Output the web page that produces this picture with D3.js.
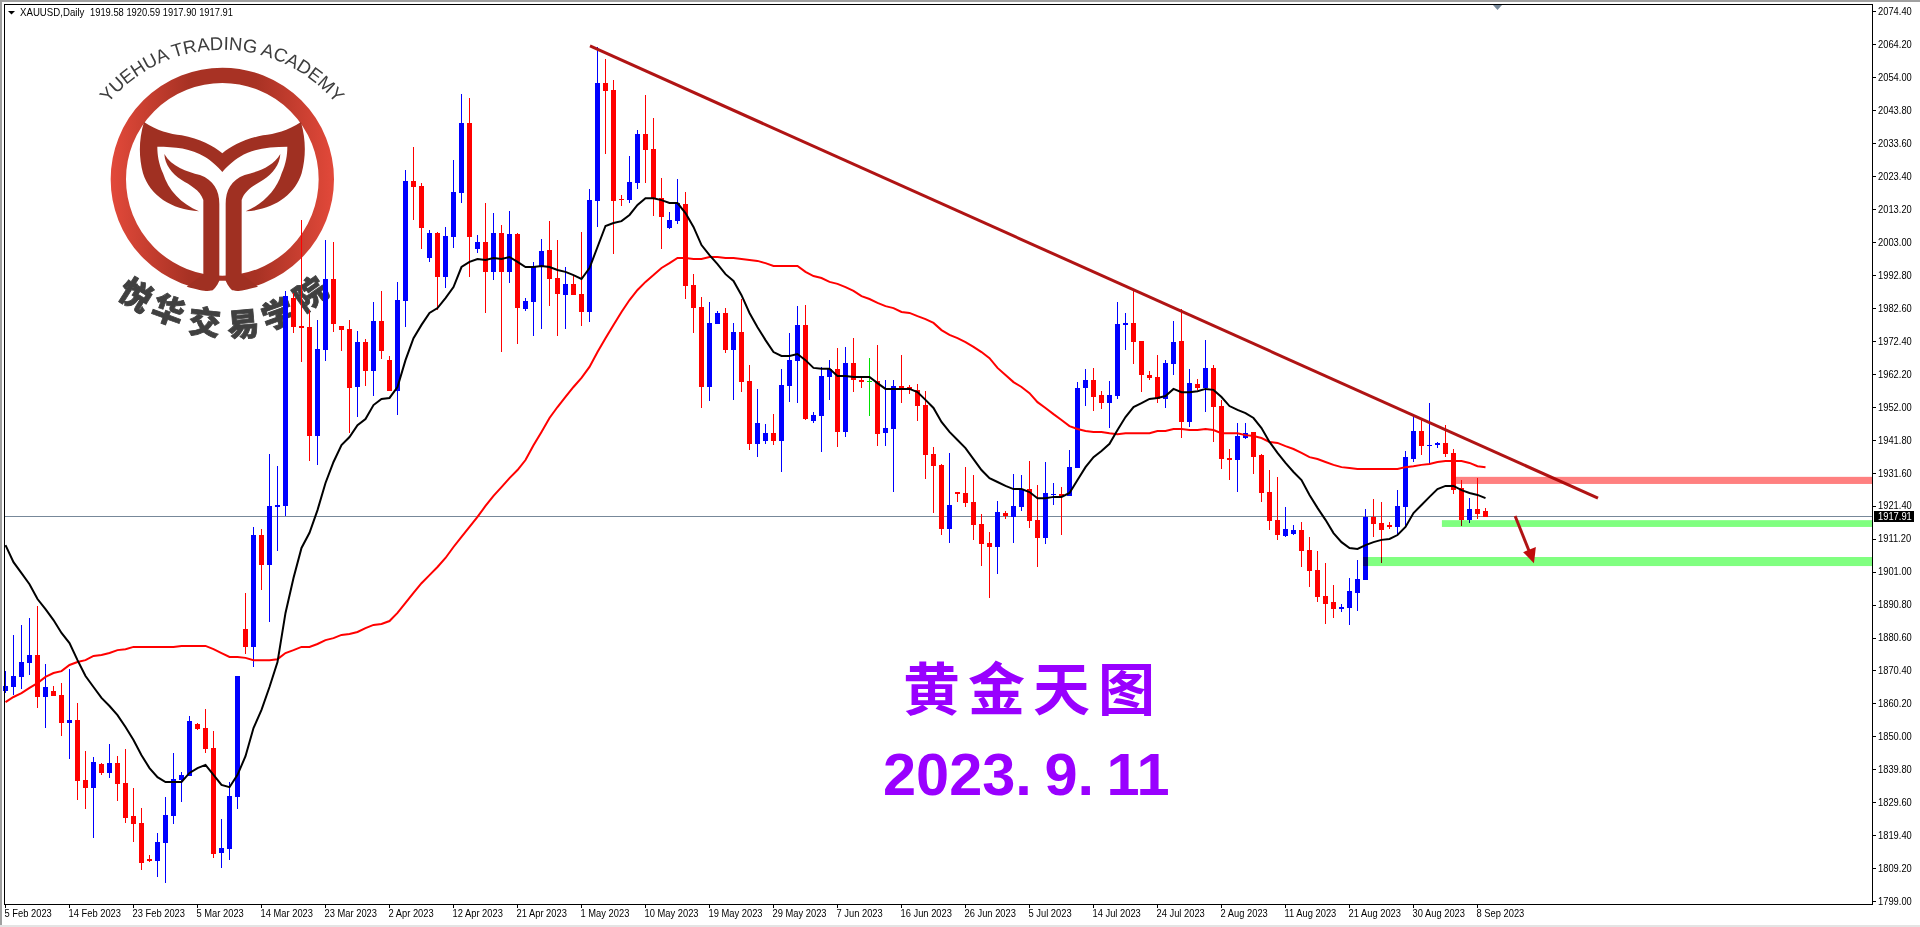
<!DOCTYPE html>
<html><head><meta charset="utf-8">
<script src="https://cdn.jsdelivr.net/npm/d3@7"></script>
<style>
html,body{margin:0;padding:0;background:#fff;overflow:hidden}
svg{display:block}
text{font-family:"Liberation Sans",Arial,sans-serif}
</style></head><body><div id="chart"></div>
<script>
const symbolHeader = "XAUUSD,Daily";
const quoteHeader = "1919.58 1920.59 1917.90 1917.91";
const priceTicks = [2074.40,2064.20,2054.00,2043.80,2033.60,2023.40,2013.20,2003.00,1992.80,1982.60,1972.40,1962.20,1952.00,1941.80,1931.60,1921.40,1911.20,1901.00,1890.80,1880.60,1870.40,1860.20,1850.00,1839.80,1829.60,1819.40,1809.20,1799.00];
const dateLabels = ["5 Feb 2023","14 Feb 2023","23 Feb 2023","5 Mar 2023","14 Mar 2023","23 Mar 2023","2 Apr 2023","12 Apr 2023","21 Apr 2023","1 May 2023","10 May 2023","19 May 2023","29 May 2023","7 Jun 2023","16 Jun 2023","26 Jun 2023","5 Jul 2023","14 Jul 2023","24 Jul 2023","2 Aug 2023","11 Aug 2023","21 Aug 2023","30 Aug 2023","8 Sep 2023"];
const barsPerDateLabel = 8;
const lastPrice = 1917.91;

const opens = [1864.0,1865.3,1868.4,1872.7,1875.2,1862.2,1864.0,1862.8,1854.1,1855.0,
1836.5,1834.0,1841.5,1838.7,1841.8,1835.6,1825.4,1823.2,1812.1,1811.5,
1817.0,1825.4,1836.5,1837.8,1853.8,1852.6,1846.4,1813.9,1815.2,1831.2,
1883.2,1877.7,1912.3,1903.0,1921.0,1921.3,1985.6,1976.9,1976.6,1942.9,
1969.5,1991.5,1976.9,1976.0,1958.1,1972.0,1963.0,1978.5,1966.4,1956.8,
1984.7,2021.8,2020.3,1998.0,2005.7,1992.1,2004.5,2018.1,2039.8,2000.8,
2003.0,1993.7,2005.7,1993.7,2005.4,1982.2,1984.4,1995.2,2000.5,1991.8,
1986.5,1990.0,1986.9,1981.3,2015.6,2052.1,2050.0,2016.2,2015.9,2021.2,
2036.3,2031.7,2016.5,2007.3,2009.4,2014.7,1989.6,1982.8,1958.1,1977.6,
1981.0,1969.5,1975.1,1959.9,1940.5,1941.4,1943.8,1941.4,1958.4,1966.1,
1977.3,1947.6,1949.1,1961.2,1963.7,1944.2,1965.5,1960.2,1959.9,1959.9,
1943.8,1945.1,1958.4,1958.1,1957.2,1952.5,1937.4,1934.0,1914.2,1925.6,
1925.3,1922.5,1915.7,1909.8,1908.6,1919.1,1917.9,1921.0,1926.5,1917.0,
1911.4,1924.7,1925.0,1924.4,1933.0,1957.8,1960.2,1955.6,1953.1,1955.3,
1977.3,1977.9,1972.3,1961.8,1961.2,1954.4,1965.2,1972.3,1947.3,1959.0,
1957.8,1964.0,1952.2,1936.1,1935.5,1942.3,1944.2,1937.0,1925.6,1917.0,
1912.0,1912.6,1913.9,1907.7,1901.5,1893.4,1891.6,1889.4,1889.7,1894.4,
1898.4,1917.9,1916.0,1915.4,1914.8,1921.0,1935.8,1944.5,1939.8,1940.1,
1940.8,1937.7,1926.8,1917.0,1920.3,1919.58];

const closes = [1865.6,1868.7,1873.0,1875.2,1862.2,1865.3,1862.5,1854.1,1855.0,1836.2,
1834.0,1842.1,1838.7,1841.8,1835.3,1824.8,1822.9,1810.8,1811.5,1817.3,
1825.7,1836.8,1838.1,1854.8,1852.3,1846.1,1813.6,1815.5,1831.6,1868.7,
1877.7,1912.3,1903.0,1921.3,1921.6,1986.2,1976.6,1976.3,1942.9,1969.8,
1991.5,1977.6,1975.7,1957.8,1972.0,1963.0,1978.5,1969.2,1956.8,1985.0,
2021.8,2020.0,2007.3,2005.7,1992.1,2004.8,2018.4,2039.8,2004.5,2003.0,
1993.7,2005.7,1993.7,2005.4,1982.5,1984.7,1995.2,2000.2,1991.5,1986.9,
1990.0,1986.5,1981.3,2015.9,2052.1,2049.7,2015.6,2015.9,2021.5,2036.3,
2031.4,2016.5,2010.7,2009.7,2015.0,1989.3,1982.5,1958.1,1977.9,1981.0,
1969.5,1975.1,1959.6,1940.5,1947.0,1943.8,1941.4,1958.7,1966.4,1977.3,
1948.2,1949.4,1961.5,1963.7,1944.2,1965.5,1960.2,1959.6,1959.9,1943.5,
1945.4,1958.4,1957.5,1957.2,1952.2,1937.0,1933.6,1914.2,1921.6,1925.0,
1922.2,1915.4,1909.5,1908.6,1919.4,1918.2,1921.3,1926.5,1916.6,1911.4,
1925.3,1925.0,1924.4,1933.3,1957.8,1960.2,1955.0,1953.1,1955.6,1977.6,
1977.9,1972.0,1961.8,1960.9,1954.4,1965.5,1972.0,1947.3,1959.3,1957.8,
1964.0,1951.9,1935.8,1935.5,1942.9,1943.8,1936.4,1925.3,1916.6,1912.3,
1914.2,1913.9,1907.4,1901.2,1893.1,1891.0,1889.4,1890.0,1895.0,1898.7,
1917.9,1915.7,1913.9,1914.8,1921.3,1936.4,1944.5,1939.8,1940.1,1940.8,
1937.4,1926.2,1917.0,1920.3,1918.8,1917.91];

const highs = [1870.2,1881.4,1884.5,1886.6,1890.3,1872.4,1865.6,1866.5,1870.8,1860.3,
1845.5,1843.6,1841.8,1847.6,1843.9,1846.1,1834.0,1827.8,1813.3,1820.1,
1831.2,1844.9,1839.0,1856.3,1854.1,1858.5,1851.7,1824.5,1835.9,1868.7,
1894.4,1914.8,1914.2,1937.4,1933.6,1987.8,1987.2,2009.7,1981.9,1978.8,
2003.6,2003.0,1976.9,1978.8,1975.4,1972.9,1984.4,1987.8,1967.7,1990.6,
2025.2,2032.3,2021.2,2006.7,2006.0,2007.6,2028.3,2048.7,2047.5,2005.1,
2015.0,2011.9,2008.2,2012.5,2005.7,1985.6,1996.8,2003.9,2009.4,2003.6,
1995.2,1992.4,2006.0,2019.3,2063.3,2059.5,2053.1,2017.5,2029.5,2037.6,
2048.4,2041.3,2022.7,2012.2,2022.4,2018.4,1993.0,1985.9,1984.4,1981.6,
1982.5,1977.9,1985.3,1964.9,1957.5,1946.6,1949.7,1963.7,1974.8,1983.1,
1983.5,1950.3,1964.3,1966.4,1970.1,1970.5,1973.2,1961.2,1967.0,1971.1,
1960.2,1960.2,1968.0,1958.7,1959.0,1956.8,1939.5,1934.3,1937.7,1925.6,
1933.3,1930.9,1918.8,1913.2,1922.8,1919.7,1931.2,1930.9,1935.2,1927.8,
1934.9,1928.4,1927.1,1938.6,1959.6,1963.7,1964.0,1956.8,1959.9,1984.4,
1981.0,1988.1,1972.3,1963.0,1968.0,1966.4,1978.5,1982.2,1963.7,1960.6,
1972.6,1964.9,1954.1,1938.9,1947.0,1947.0,1944.2,1937.4,1932.4,1930.2,
1921.0,1915.4,1916.3,1911.7,1907.4,1903.6,1896.8,1891.0,1899.0,1904.6,
1920.3,1923.4,1922.5,1916.3,1926.2,1938.3,1948.8,1947.9,1953.1,1941.1,
1946.3,1938.9,1929.3,1923.7,1929.9,1920.59];

const lows = [1863.4,1862.8,1864.7,1869.0,1858.8,1852.6,1862.5,1850.1,1843.0,1830.3,
1827.5,1818.6,1838.1,1837.1,1830.0,1823.2,1817.3,1808.7,1811.1,1806.5,
1804.6,1822.9,1829.7,1837.8,1852.0,1844.9,1812.4,1809.3,1811.8,1827.5,
1875.5,1871.5,1895.3,1885.4,1907.3,1918.2,1974.8,1965.8,1935.2,1934.0,
1966.1,1975.1,1969.2,1943.8,1948.8,1958.4,1955.3,1966.7,1956.8,1949.4,
1976.6,2009.7,2000.8,1996.8,1981.9,1988.7,2001.1,2015.0,1992.1,1999.5,
1981.0,1991.2,1968.9,1990.3,1971.4,1981.6,1973.9,1976.0,1983.1,1973.9,
1976.0,1986.5,1976.9,1978.2,2007.6,2030.2,1999.2,2014.1,2015.0,2019.3,
2021.2,2011.0,2000.8,2007.0,2008.5,1985.3,1974.8,1951.6,1953.7,1977.6,
1968.6,1954.1,1956.5,1938.6,1936.4,1940.5,1940.1,1931.8,1953.4,1953.1,
1947.9,1946.9,1938.0,1954.1,1939.5,1942.6,1956.5,1957.8,1949.1,1939.8,
1939.8,1925.6,1953.1,1955.9,1947.6,1929.6,1919.1,1912.3,1909.8,1922.5,
1921.0,1910.8,1902.7,1892.8,1900.2,1917.3,1909.8,1919.7,1914.5,1902.4,
1909.5,1921.6,1912.3,1924.4,1933.0,1952.2,1950.7,1951.3,1945.4,1954.4,
1969.5,1965.2,1956.5,1960.2,1953.1,1951.6,1961.8,1942.3,1945.7,1957.2,
1950.3,1941.1,1932.7,1929.3,1925.6,1942.0,1931.2,1922.5,1913.9,1910.8,
1911.7,1912.3,1902.4,1896.2,1891.6,1884.8,1886.6,1888.5,1884.5,1888.8,
1898.4,1911.7,1903.6,1914.2,1912.3,1914.8,1934.9,1937.0,1934.3,1939.2,
1936.4,1925.0,1915.1,1916.0,1917.3,1917.90];

const maFast = [1909.2,1903.9,1900.5,1897.1,1892.5,1889.4,1886.0,1882.0,1878.9,1873.6,
1868.7,1865.3,1861.9,1859.4,1856.6,1852.9,1848.9,1844.2,1840.2,1837.4,
1835.9,1835.9,1835.9,1838.7,1840.2,1841.2,1838.1,1835.0,1834.3,1838.1,
1843.9,1852.6,1858.2,1865.3,1873.0,1888.2,1899.0,1908.3,1913.0,1920.0,
1928.4,1934.9,1940.1,1942.6,1946.3,1948.2,1952.5,1954.4,1954.7,1958.1,
1966.4,1973.2,1977.3,1981.0,1982.5,1985.6,1989.0,1995.2,1996.8,1997.7,
1997.4,1998.0,1997.7,1998.3,1996.8,1995.2,1995.2,1995.5,1995.2,1994.3,
1993.7,1992.7,1991.5,1994.9,2001.4,2007.9,2008.8,2009.4,2011.3,2014.4,
2016.5,2016.5,2015.9,2015.0,2015.0,2011.9,2007.6,2002.0,1998.9,1996.1,
1993.0,1990.9,1986.5,1981.0,1976.6,1972.6,1968.9,1967.7,1967.7,1968.3,
1966.4,1964.0,1963.7,1963.7,1961.5,1961.5,1961.2,1961.2,1961.2,1959.3,
1957.5,1957.5,1957.5,1957.5,1956.5,1954.1,1951.6,1947.3,1944.2,1941.7,
1939.2,1935.8,1932.4,1929.9,1928.7,1927.5,1926.5,1926.5,1925.6,1923.7,
1923.7,1924.1,1924.1,1925.3,1929.3,1933.3,1936.4,1938.3,1940.5,1944.8,
1948.8,1951.9,1953.1,1954.4,1954.7,1955.3,1957.5,1956.5,1956.5,1956.8,
1957.5,1957.2,1955.0,1952.2,1951.0,1950.0,1948.5,1945.4,1941.1,1937.7,
1934.6,1931.8,1929.3,1924.7,1920.7,1917.0,1912.9,1910.1,1908.3,1908.0,
1909.2,1910.1,1910.8,1911.1,1912.3,1914.8,1919.1,1921.6,1924.1,1926.5,
1927.5,1927.5,1926.2,1925.3,1924.7,1923.7];

const maSlow = [1860.6,1862.2,1863.4,1865.0,1866.5,1868.4,1869.6,1870.2,1872.1,1873.0,
1873.6,1874.9,1875.2,1875.8,1876.7,1877.0,1877.7,1877.7,1877.7,1877.7,
1877.7,1877.7,1878.0,1878.0,1878.0,1878.0,1877.0,1875.8,1874.6,1874.6,
1874.3,1873.6,1873.6,1873.6,1873.9,1875.8,1876.7,1877.7,1877.7,1878.6,
1879.8,1880.4,1881.4,1881.7,1882.3,1883.5,1884.5,1884.8,1885.7,1888.2,
1891.3,1894.4,1897.4,1899.9,1902.4,1905.2,1908.6,1911.7,1914.8,1917.9,
1921.3,1924.4,1927.1,1929.9,1932.4,1935.5,1940.1,1944.2,1948.5,1951.9,
1955.0,1958.1,1960.9,1964.3,1968.9,1973.2,1977.3,1981.3,1985.0,1988.1,
1990.6,1992.7,1994.9,1996.4,1998.0,1998.0,1997.7,1997.7,1998.3,1998.3,
1998.0,1998.0,1997.7,1997.4,1997.1,1996.4,1995.5,1995.5,1995.5,1995.5,
1993.7,1992.4,1991.8,1990.6,1990.0,1989.0,1987.8,1986.2,1985.3,1984.1,
1983.1,1982.5,1981.3,1981.0,1980.0,1979.1,1977.9,1975.7,1974.2,1973.2,
1972.0,1970.5,1968.9,1967.0,1964.0,1961.8,1959.6,1958.1,1956.2,1953.4,
1951.6,1949.7,1947.9,1946.0,1945.1,1944.5,1944.2,1944.2,1943.8,1943.5,
1943.8,1943.8,1943.8,1943.8,1944.5,1944.5,1945.1,1945.1,1944.8,1944.8,
1945.1,1944.8,1943.8,1943.8,1943.8,1943.2,1942.9,1942.3,1941.1,1940.8,
1939.8,1938.9,1937.7,1936.4,1935.8,1934.9,1934.0,1933.3,1933.0,1932.7,
1932.7,1932.7,1932.7,1932.7,1932.7,1933.3,1933.6,1934.0,1934.3,1934.9,
1935.2,1935.2,1935.2,1934.6,1933.6,1933.3];

// Drawn objects, in bar-index / price terms
const trendBars = [73.06,199.06], trendPrices = [2063.6,1923.7];
const arrowBars = [188.7,190.8], arrowPrices = [1918.2,1905.2];
const arrowHeadBars = [189.7,191.3,191.05], arrowHeadPrices = [1907.0,1908.6,1903.6];
const zoneStartBars = [181.2,179.55,169.7];
const zoneTopPrices = [1930.3,1916.9,1905.5];
const zoneBottomPrices = [1928.1,1914.8,1902.7];
const zoneColors = ["#ff8080","#80ff80","#80ff80"];
const titleCN = "黄金天图", titleDate = "2023. 9. 11";
const logoEN = "YUEHUA TRADING ACADEMY";
const logoCN = ["悦","华","交","易","学","院"];

const W=1920,H=927,L=4,T=4,R=1872,B=904;
const svg=d3.select("#chart").append("svg").attr("width",W).attr("height",H);
svg.append("rect").attr("width",W).attr("height",H).attr("fill","#fff");
const bars=d3.range(opens.length);
const x=d3.scaleLinear().domain([0,185]).range([5.5,1485.5]);
const y=d3.scaleLinear().domain([1799,2074.4]).range([901.3,11]);
const py=v=>Math.round(y(v));

// ---- window chrome
svg.append("rect").attr("x",0).attr("y",0).attr("width",W).attr("height",2).attr("fill","#a0a0a0");
svg.append("rect").attr("x",0).attr("y",0).attr("width",2).attr("height",H).attr("fill","#a0a0a0");
svg.append("rect").attr("x",0).attr("y",925).attr("width",W).attr("height",2).attr("fill","#e4e4e4");

// ---- logo (underneath the candles)
const defs=svg.append("defs");
const grad=defs.append("linearGradient").attr("id","ringGrad").attr("gradientUnits","userSpaceOnUse")
 .attr("x1",332).attr("x2",1002).attr("y1",0).attr("y2",0);
[[0,"#e2493a"],[.35,"#a83224"],[.65,"#a83224"],[1,"#e2493a"]].forEach(s=>grad.append("stop").attr("offset",s[0]).attr("stop-color",s[1]));
const logo=svg.append("g").attr("transform","scale(0.33333)");
logo.append("circle").attr("cx",667).attr("cy",538).attr("r",312).attr("fill","none").attr("stroke","url(#ringGrad)").attr("stroke-width",46);
const emblem="#a03022";
const wing="M432,366 C470,392 510,402 545,406 C600,416 640,438 667,460 C694,438 734,416 789,406 C824,402 864,392 903,366 C918,420 918,470 905,520 C885,585 820,630 737,634 C790,612 830,570 845,520 C858,490 862,465 862,440 C810,440 760,445 720,470 C700,482 680,500 667,516 C654,500 634,482 614,470 C574,445 524,440 472,440 C472,465 476,490 489,520 C504,570 544,612 597,634 C514,630 449,585 429,520 C416,470 416,420 432,366 Z";
logo.append("path").attr("d",wing).attr("fill",emblem);
const stemL="M493,462 C515,500 560,515 600,525 C640,540 658,570 658,612 L658,842 C652,858 640,872 622,873 C612,873 590,868 560,860 L610,822 L610,600 C600,570 570,555 545,540 C515,520 495,495 493,462 Z";
const stemR="M841,462 C819,500 774,515 734,525 C694,540 677,570 677,612 L677,842 C683,858 695,872 712,873 C722,873 744,868 774,860 L725,822 L725,600 C734,570 764,555 789,540 C819,520 839,495 841,462 Z";
logo.append("path").attr("d",stemL).attr("fill",emblem);
logo.append("path").attr("d",stemR).attr("fill",emblem);
logo.append("path").attr("d","M658,842 C652,858 640,872 626,880 L708,880 C695,872 683,858 677,842 Z").attr("fill","#fff");
defs.append("path").attr("id","logoArc").attr("d","M98,117 A148,148 0 0 1 346,117");
svg.append("text").attr("font-size",18.5).attr("fill","#3d3d3d")
 .append("textPath").attr("href","#logoArc").attr("startOffset","50%").attr("text-anchor","middle").text(logoEN);
const cnX=[137,169,205,243,277,309], cnY=[293,308,320,322,312,292], cnR=[32,20,6,-5,-20,-35];
svg.append("g").selectAll("text").data(logoCN).join("text")
 .attr("transform",(d,i)=>`translate(${cnX[i]},${cnY[i]}) rotate(${cnR[i]})`)
 .attr("text-anchor","middle").attr("dominant-baseline","central")
 .style("font-family",'"Noto Sans CJK SC"').style("font-weight",900).attr("font-size",32)
 .attr("fill","#404040").attr("stroke","#404040").attr("stroke-width",0.8).text(d=>d);

// ---- last-price line
svg.append("line").attr("x1",L).attr("x2",R).attr("y1",py(lastPrice)-.5).attr("y2",py(lastPrice)-.5)
 .attr("stroke","#778899").attr("stroke-width",1);

// ---- candles
const color=i=>opens[i]===closes[i]?"#00e000":(closes[i]>opens[i]?"#0000ff":"#ff0000");
const cg=svg.append("g").attr("shape-rendering","crispEdges");
cg.selectAll("line.wick").data(bars).join("line").attr("class","wick")
 .attr("x1",i=>x(i)).attr("x2",i=>x(i)).attr("y1",i=>py(highs[i])).attr("y2",i=>py(lows[i]))
 .attr("stroke",color).attr("stroke-width",1);
cg.selectAll("rect.body").data(bars).join("rect").attr("class","body")
 .attr("x",i=>x(i)-2.5).attr("width",5)
 .attr("y",i=>Math.min(py(opens[i]),py(closes[i])))
 .attr("height",i=>Math.max(1,Math.abs(py(opens[i])-py(closes[i]))))
 .attr("fill",color);

// ---- moving averages
const maLine=s=>d3.line().x(i=>x(i)).y(i=>y(s[i]))(bars);
svg.append("path").attr("d",maLine(maSlow)).attr("fill","none").attr("stroke","#ff0000").attr("stroke-width",2);
svg.append("path").attr("d",maLine(maFast)).attr("fill","none").attr("stroke","#000").attr("stroke-width",2);

// ---- trendline
svg.append("line").attr("x1",x(trendBars[0])).attr("y1",y(trendPrices[0])).attr("x2",x(trendBars[1])).attr("y2",y(trendPrices[1]))
 .attr("stroke","#b01414").attr("stroke-width",3);

// ---- zones
svg.append("g").selectAll("rect").data(zoneColors).join("rect")
 .attr("x",(d,i)=>x(zoneStartBars[i])).attr("width",(d,i)=>R-x(zoneStartBars[i]))
 .attr("y",(d,i)=>y(zoneTopPrices[i])).attr("height",(d,i)=>y(zoneBottomPrices[i])-y(zoneTopPrices[i]))
 .attr("fill",d=>d).style("mix-blend-mode","multiply");

// ---- arrow
svg.append("line").attr("x1",x(arrowBars[0])).attr("y1",y(arrowPrices[0])).attr("x2",x(arrowBars[1])).attr("y2",y(arrowPrices[1]))
 .attr("stroke","#b01414").attr("stroke-width",3);
svg.append("polygon").attr("fill","#c00c0c")
 .attr("points",arrowHeadBars.map((b,i)=>x(b)+","+y(arrowHeadPrices[i])).join(" "));

// ---- frame
const frame=svg.append("g").attr("stroke","#000").attr("shape-rendering","crispEdges").attr("fill","none");
frame.append("rect").attr("x",L+.5).attr("y",T+.5).attr("width",R-L).attr("height",B-T);
svg.append("polygon").attr("points","1493,5 1502,5 1497.5,10").attr("fill","#778899");

// ---- axes
const fit=(sel,k)=>sel.each(function(){const t=d3.select(this);t.attr("textLength",this.getComputedTextLength()*k).attr("lengthAdjust","spacingAndGlyphs");});
const yAxis=d3.axisRight(y).tickValues(priceTicks).tickFormat(d3.format(".2f")).tickSize(3).tickPadding(2);
const yg=svg.append("g").attr("transform",`translate(${R+1},0)`).call(yAxis);
yg.select(".domain").remove();
yg.selectAll("line").attr("stroke","#000").attr("shape-rendering","crispEdges");
yg.selectAll("text").attr("font-size",10.5).attr("fill","#000").style("font-family",'"Liberation Sans"').call(fit,0.89);
const dateTicks=dateLabels.map((d,i)=>i*barsPerDateLabel);
const xAxis=d3.axisBottom(x).tickValues(dateTicks).tickFormat((d,i)=>dateLabels[i]).tickSize(4).tickPadding(2);
const xg=svg.append("g").attr("transform",`translate(-0.5,${B})`).call(xAxis);
xg.select(".domain").remove();
xg.selectAll("line").attr("stroke","#000").attr("shape-rendering","crispEdges");
xg.selectAll("text").attr("font-size",10.5).attr("fill","#000").attr("text-anchor","start").attr("dx",-1).style("font-family",'"Liberation Sans"').call(fit,0.89);

// ---- last price tag
svg.append("rect").attr("x",1874).attr("y",511).attr("width",40).attr("height",11).attr("fill","#000");
svg.append("text").attr("x",1878).attr("y",y(lastPrice)+3.5).attr("font-size",10.5).attr("fill","#fff").text(d3.format(".2f")(lastPrice)).call(fit,0.89);

// ---- header
svg.append("polygon").attr("points","8,11 15,11 11.5,14.5").attr("fill","#000");
svg.append("text").attr("x",20).attr("y",16).attr("font-size",10.5).attr("fill","#000").text(symbolHeader).call(fit,0.92);
svg.append("text").attr("x",90).attr("y",16).attr("font-size",10.5).attr("fill","#000").text(quoteHeader).call(fit,0.89);

// ---- big titles
svg.append("text").attr("x",1033).attr("y",710).attr("text-anchor","middle").attr("fill","#9900ff")
 .style("font-family",'"Noto Sans CJK SC"').style("font-weight",700).style("letter-spacing","8px").attr("font-size",57).text(titleCN);
svg.append("text").attr("x",883).attr("y",795).attr("fill","#9900ff").style("font-weight",700).style("word-spacing","-4px").attr("font-size",59.5).text(titleDate);
</script></body></html>
